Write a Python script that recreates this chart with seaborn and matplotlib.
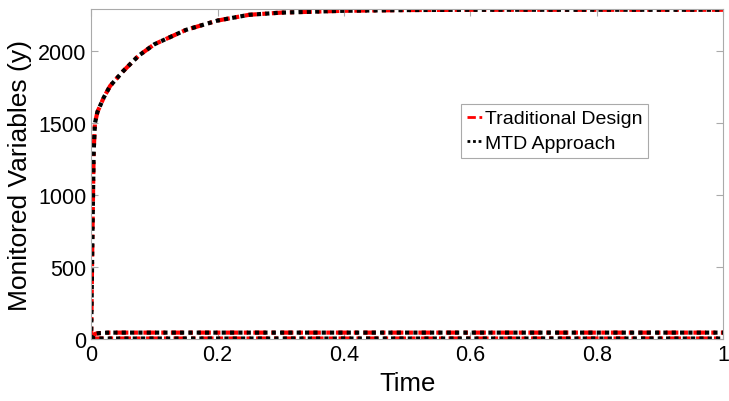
import matplotlib
matplotlib.use("Agg")
import matplotlib.pyplot as plt
from matplotlib.lines import Line2D
import seaborn as sns

# values
t = [0, 0.002, 0.004, 0.006, 0.01, 0.02, 0.03, 0.05, 0.075, 0.1, 0.15,
     0.2, 0.25, 0.3, 0.4, 0.5, 0.6, 0.8, 1.0]
y_big = [0, 700, 1300, 1500, 1580, 1680, 1760, 1860, 1970, 2050, 2150,
         2215, 2255, 2270, 2283, 2288, 2290, 2290, 2290]
y_mid = [0, 15, 28, 36, 40, 44, 45, 45, 45, 45, 45,
         45, 45, 45, 45, 45, 45, 45, 45]
y_low = [0, 3, 4, 4, 4, 4, 4, 4, 4, 4, 4,
         4, 4, 4, 4, 4, 4, 4, 4]

series = ["Traditional Design", "MTD Approach"]
colors = ["red", "black"]
styles = [(0, (3, 1.3, 1, 1.3)), (0, (1, 1))]

sns.set_style("white")
plt.rcParams['font.family'] = ['Liberation Sans', 'DejaVu Sans']
plt.rcParams['text.color'] = 'black'
plt.rcParams['axes.labelcolor'] = 'black'

fig = plt.figure(figsize=(7.29, 4.02), dpi=100)
ax = fig.add_axes([0.125, 0.154, 0.867, 0.821])

for name, c, ls in zip(series, colors, styles):
    for y in [y_big, y_mid, y_low]:
        sns.lineplot(x=t, y=y, ax=ax, color=c, linestyle=ls, linewidth=3)

ax.set_xlim(0, 1)
ax.set_ylim(0, 2295)
ax.set_xticks([0, 0.2, 0.4, 0.6, 0.8, 1])
ax.set_xticklabels(["0", "0.2", "0.4", "0.6", "0.8", "1"])
ax.set_yticks([0, 500, 1000, 1500, 2000])
ax.set_xlabel("Time", fontsize=18.5)
ax.set_ylabel("Monitored Variables (y)", fontsize=19)
ax.tick_params(direction="in", length=5, labelsize=15.5, colors="#aaaaaa",
               labelcolor="black", bottom=True, left=True, top=True, right=True)
for s in ax.spines.values():
    s.set_color("#aaaaaa")
    s.set_linewidth(0.8)

handles = [Line2D([], [], color=c, linestyle=ls, linewidth=2)
           for c, ls in zip(colors, styles)]
leg = ax.legend(handles, series, loc="upper left",
                bbox_to_anchor=(0.632, 0.739), bbox_transform=fig.transFigure,
                fontsize=14, handlelength=0.8, handletextpad=0.15, borderpad=0.3,
                borderaxespad=0, labelspacing=0.35, fancybox=False, framealpha=1)
leg.get_frame().set_edgecolor("#aaaaaa")
leg.get_frame().set_linewidth(0.8)

fig.savefig("out.png", dpi=100)
